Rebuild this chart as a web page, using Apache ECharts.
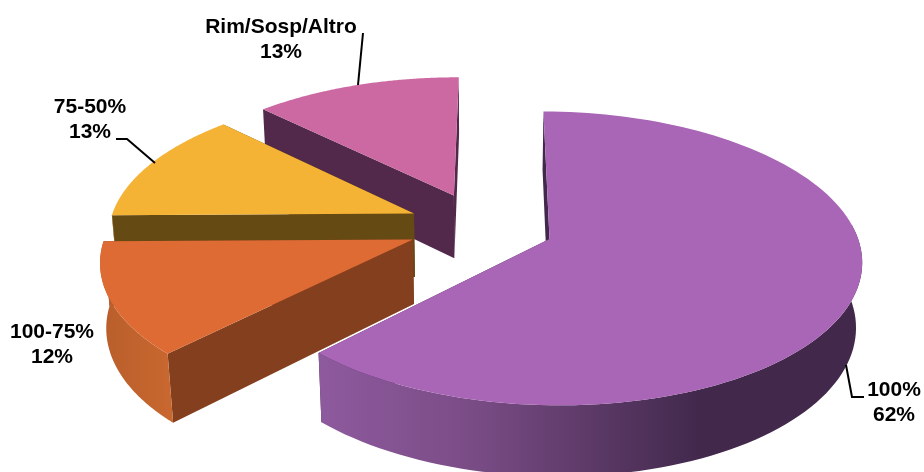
<!DOCTYPE html>
<html><head><meta charset="utf-8">
<style>html,body{margin:0;padding:0;background:#fff}#c{width:924px;height:472px}</style>
<script src="https://cdn.jsdelivr.net/npm/echarts@6/dist/echarts.min.js"></script>
</head><body><div id="c"></div>
<script>
const categories = ['100%', '100-75%', '75-50%', 'Rim/Sosp/Altro'];
const shares = [62.2, 12.49, 12.65, 12.66];

const topColors = ['#A965B6', '#DD6B33', '#F5B335', '#CC69A2'];
const cutColors = ['#42294C', '#843F1F', '#664A14', '#52294B'];
const wallStops = [
  [[0, '#8E5A9E'], [0.28, '#7A4C86'], [0.7, '#42294C'], [1, '#42294C']],
  [[0, '#B85E2B'], [1, '#C8672F']],
  [[0, '#9C6F1F'], [1, '#9C6F1F']],
  [[0, '#52294B'], [1, '#52294B']]
];
const labelBoxes = [
  { x: 894, y: 403, line: [[846, 365], [852, 397], [864, 397]] },
  { x: 52, y: 345, line: null },
  { x: 90, y: 120, line: [[155, 163], [127, 139], [116, 139]] },
  { x: 281, y: 40, line: [[358, 85], [363, 33]] }
];
const view = { cx: 481, cy: 226, rx: 305, ry: 141, depth: 65, k: 0.13, m: 0.016, explode: 0.24, rotate: 0.4 * Math.PI / 180 };

function project(u, v, h) {
  const d = 1 + view.k * v + view.m * h;
  return [view.cx + view.rx * u / d, view.cy + (-view.ry * v + view.depth * h) / d];
}
function faces(a) {
  const c = Math.cos(a);
  return c < -1e-6 || (Math.sin(a) > 0 && c < 0.12);
}
function renderSlice(params, api) {
  const i = params.dataIndex;
  const total = shares.reduce((a, b) => a + b, 0);
  const start = view.rotate + shares.slice(0, i).reduce((a, b) => a + b, 0) / total * 2 * Math.PI;
  const sweep = api.value(0) / total * 2 * Math.PI;
  const mid = start + sweep / 2;
  const ox = view.explode * Math.sin(mid), oy = view.explode * Math.cos(mid);
  const angles = [];
  for (let s = 0; s <= 120; s++) angles.push(start + sweep * s / 120);
  const at = (a, h) => project(ox + Math.sin(a), oy + Math.cos(a), h);
  const topArc = angles.map(a => at(a, 0));
  const seen = angles.filter(faces);
  const apexT = project(ox, oy, 0), apexB = project(ox, oy, 1);
  const base = (categories.length - i) * 10;
  const poly = (points, fill, step) => ({ type: 'polygon', z2: base + step, shape: { points }, style: { fill, stroke: null }, silent: true });
  const xs = topArc.map(p => p[0]);
  const grad = new echarts.graphic.LinearGradient(Math.min(...xs), 0, Math.max(...xs), 0,
    wallStops[i].map(s => ({ offset: s[0], color: s[1] })), true);
  const a0 = angles[0], a1 = angles[120];
  const children = [
    poly([apexT, at(a0, 0), at(a0, 1), apexB], cutColors[i], 0),
    poly([apexT, at(a1, 0), at(a1, 1), apexB], cutColors[i], 1)
  ];
  if (seen.length > 1) {
    children.push(poly(seen.map(a => at(a, 0)).concat(seen.slice().reverse().map(a => at(a, 1))), grad, 2));
  }
  children.push(poly([apexT].concat(topArc), topColors[i], 3));
  return { type: 'group', children };
}
function renderNotes(params, api) {
  const i = params.dataIndex;
  const b = labelBoxes[i];
  const children = [{
    type: 'text', silent: true,
    style: {
      x: b.x, y: b.y, text: categories[i] + '\n' + Math.round(api.value(0)) + '%',
      fill: '#000', align: 'center', verticalAlign: 'middle', lineHeight: 25,
      font: 'bold 21px "Liberation Sans", Arial, sans-serif'
    }
  }];
  if (b.line) children.push({ type: 'polyline', silent: true, shape: { points: b.line }, style: { fill: null, stroke: '#000', lineWidth: 2 } });
  return { type: 'group', children };
}
const chart = echarts.init(document.getElementById('c'), null, { renderer: 'canvas' });
chart.setOption({
  animation: false,
  backgroundColor: '#fff',
  series: [
    { type: 'custom', coordinateSystem: 'none', renderItem: renderSlice, data: shares.map(v => [v]), z: 1 },
    { type: 'custom', coordinateSystem: 'none', renderItem: renderNotes, data: shares.map(v => [v]), z: 2 }
  ]
});
</script></body></html>
